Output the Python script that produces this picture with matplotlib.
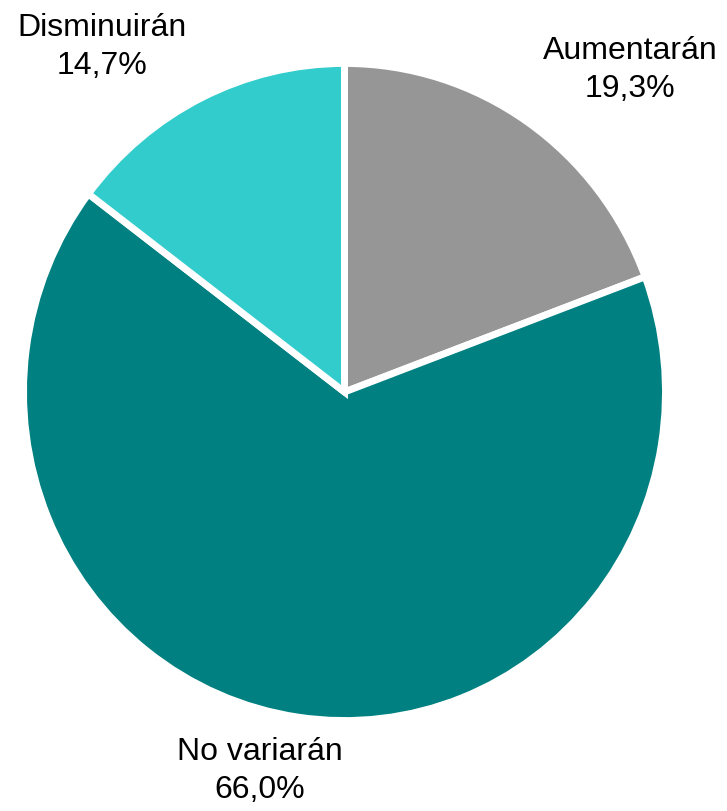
import matplotlib.pyplot as plt

# dados
categorias = ["Aumentarán", "No variarán", "Disminuirán"]
valores = [19.3, 66.0, 14.7]
cores = ["#969696", "#008080", "#33CCCC"]

# posicoes dos rotulos (pixels a partir do topo)
pos_rotulos = [(630, 70), (260, 771), (102, 47)]

plt.rcParams['font.family'] = ['Liberation Sans', 'DejaVu Sans']

W, H = 727, 812
# a pizza original e levemente mais alta que larga
esticar = 325 / 317.5

fig = plt.figure(figsize=(W / 100, H / 100), dpi=100)
ax = fig.add_axes([0, 0, 1, 1])

ax.pie(valores, colors=cores, startangle=90, counterclock=False,
       center=(344.5, (H - 393) / esticar), radius=321,
       wedgeprops=dict(edgecolor='white', linewidth=5))
ax.set_aspect('auto')
ax.set_xlim(0, W)
ax.set_ylim(0, H / esticar)
ax.axis('off')

for nome, v, (x, y) in zip(categorias, valores, pos_rotulos):
    txt = nome + "\n" + ("%.1f%%" % v).replace(".", ",")
    fig.text(x / W, 1 - y / H, txt, ha='center', va='center', fontsize=23,
             linespacing=1.35, color='black')

fig.savefig("out.png", dpi=100)
